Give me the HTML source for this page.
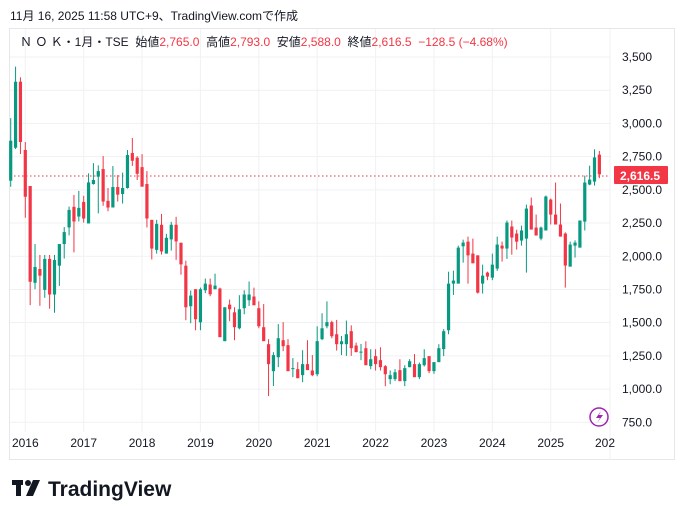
<!DOCTYPE html>
<html><head><meta charset="utf-8"><style>
body{margin:0;background:#fff;width:684px;height:518px;overflow:hidden;font-family:"Liberation Sans","Noto Sans CJK JP",sans-serif;}
svg text{font-family:"Liberation Sans","Noto Sans CJK JP",sans-serif;white-space:pre;}
</style></head><body>
<svg id="s" width="684" height="518" xmlns="http://www.w3.org/2000/svg" xml:space="preserve">
<rect x="0" y="0" width="684" height="518" fill="#fff"/>
<text x="10" y="20" font-size="12" fill="#131722">11月 16, 2025 11:58 UTC+9、TradingView.comで作成</text>
<rect x="9.5" y="28.5" width="665" height="431" fill="none" stroke="#e6e7ea"/>
<g id="grid"></g>
<line x1="610" y1="29" x2="610" y2="460" stroke="#f0f0f0"/>
<line x1="10" y1="176" x2="610" y2="176" stroke="#f23645" stroke-dasharray="1.5,2.5"/>
<g id="c"></g>
<g id="ax" font-size="12" fill="#131722"></g>
<rect x="614" y="166" width="54" height="18" rx="1" fill="#f23645"/>
<text x="620" y="180" font-size="12" font-weight="bold" fill="#fff">2,616.5</text>
<text x="20" y="46" font-size="12" fill="#131722">Ｎ Ｏ Ｋ・1月・TSE  始値<tspan fill="#f23645">2,765.0</tspan>  高値<tspan fill="#f23645">2,793.0</tspan>  安値<tspan fill="#f23645">2,588.0</tspan>  終値<tspan fill="#f23645">2,616.5  −128.5 (−4.68%)</tspan></text>
<circle cx="599" cy="417" r="9" fill="none" stroke="#9c27b0" stroke-width="1.5"/>
<path d="M601 411 L596 418 L600 418 L597 423 L603 415 L599 415 Z" fill="#9c27b0"/>
<g fill="#131722"><rect x="12" y="480" width="11" height="5"/><rect x="16" y="480" width="5" height="16"/><circle cx="28" cy="483" r="3"/><path d="M33 480 L40 480 L33 496 L26 496 Z"/></g>
<text x="48" y="496" font-size="21" font-weight="bold" fill="#131722">TradingView</text>
</svg>
<script>
var d=[
[2569,3040,2523,2870],[2817,3427,2807,3314],[3314,3347,2770,2860],
[2800,2860,2290,2448],[2529,2529,1632,1808],[1800,2092,1752,1919],[1904,2010,1627,1854],[1747,2010,1687,1980],[1980,2010,1605,1712],[1712,2010,1575,1972],[1929,2092,1777,2092],[2092,2220,1983,2182],[2217,2374,2157,2349],[2372,2462,2029,2262],[2299,2492,2262,2364],
[2409,2455,2254,2284],[2247,2624,2247,2556],[2544,2701,2539,2574],[2599,2684,2323,2641],[2656,2754,2380,2412],[2417,2514,2339,2367],[2367,2679,2367,2521],[2521,2611,2412,2464],[2469,2630,2397,2514],[2514,2800,2509,2762],[2777,2890,2680,2719],[2742,2754,2574,2621],
[2671,2769,2524,2524],[2544,2641,2217,2284],[2274,2274,1976,2058],[2048,2274,2020,2244],[2237,2319,2013,2036],[2020,2169,2020,2139],[2127,2259,2043,2237],[2237,2297,1973,2112],[2102,2102,1861,1939],[1929,1967,1519,1616],[1624,1742,1496,1704],[1752,1752,1443,1526],
[1503,1764,1443,1752],[1744,1832,1722,1794],[1787,1832,1699,1714],[1752,1869,1752,1779],[1757,1764,1391,1391],[1361,1616,1361,1616],[1636,1674,1511,1601],[1578,1616,1368,1466],[1458,1707,1450,1601],[1609,1744,1563,1712],[1669,1810,1626,1712],[1697,1764,1631,1631],
[1609,1661,1458,1473],[1466,1640,1361,1361],[1338,1376,947,1188],[1135,1278,1023,1256],[1240,1489,1165,1383],[1368,1504,1286,1323],[1331,1376,1135,1135],[1155,1233,1090,1158],[1150,1203,1082,1082],[1105,1293,1052,1188],[1188,1368,1143,1143],[1140,1256,1097,1105],
[1112,1473,1097,1361],[1376,1571,1368,1458],[1473,1661,1458,1504],[1504,1515,1383,1398],[1413,1521,1290,1338],[1338,1400,1256,1360],[1338,1516,1250,1413],[1436,1480,1250,1308],[1328,1350,1278,1278],[1278,1340,1218,1282],[1308,1360,1180,1180],[1173,1300,1150,1225],
[1248,1300,1140,1188],[1218,1315,1140,1165],[1173,1180,1022,1112],[1075,1140,1037,1105],[1075,1150,1060,1127],[1143,1225,1060,1060],[1060,1180,1022,1158],[1165,1225,1165,1210],[1188,1263,1090,1090],[1090,1200,1075,1188],[1180,1300,1170,1233],[1248,1248,1120,1135],
[1135,1203,1115,1203],[1203,1338,1203,1308],[1301,1451,1248,1436],[1443,1884,1413,1794],[1794,1892,1709,1817],[1794,2080,1794,2065],[2075,2125,1952,2103],[2110,2148,1794,2007],[2020,2133,1947,1947],[2007,2007,1719,1726],[1794,1937,1719,1854],[1877,1884,1820,1847],
[1839,2020,1820,1937],[1907,2148,1890,2088],[2080,2110,1960,2058],[2058,2269,1980,2254],[2224,2269,2012,2141],[2171,2200,2050,2110],[2118,2230,2080,2194],[2133,2389,1877,2359],[2382,2442,2201,2201],[2216,2314,2156,2156],[2133,2224,2120,2216],[2194,2457,2194,2450],
[2427,2435,2239,2314],[2314,2555,2239,2239],[2239,2397,2148,2148],[2171,2180,1764,1930],[1922,2110,1922,2088],[2080,2120,1990,2103],[2065,2269,2065,2269],[2261,2607,2194,2555],[2540,2682,2535,2577],[2562,2805,2532,2744],[2765,2793,2588,2616.5]
];
function Y(p){return 57+(3500-p)*0.13284;}
var ns="http://www.w3.org/2000/svg",g=document.getElementById('c'),gr=document.getElementById('grid'),ax=document.getElementById('ax');
function el(t,a,p){var e=document.createElementNS(ns,t);for(var k in a)e.setAttribute(k,a[k]);p.appendChild(e);return e;}
for(var p=750;p<=3500;p+=250){var y=Y(p);el('line',{x1:10,x2:610,y1:y,y2:y,stroke:'#f0f1f3'},gr);
var s=p.toLocaleString('en-US')+(p<3250?'.0':'');var t=el('text',{x:622,y:y+4},ax);t.textContent=s;}
var yrs=[2016,2017,2018,2019,2020,2021,2022,2023,2024,2025];
for(var i=0;i<yrs.length;i++){var x=25.3+i*12*4.865;el('line',{x1:x,x2:x,y1:29,y2:432,stroke:'#f0f1f3'},gr);var t=el('text',{x:x,y:447,'text-anchor':'middle'},ax);t.textContent=yrs[i];}
var t=el('text',{x:595,y:447},ax);t.textContent='202';
for(var i=0;i<d.length;i++){var c=d[i],x=25.3+(i-3)*4.865,up=c[3]>=c[0],col=up?'#089981':'#f23645';
el('line',{x1:x,x2:x,y1:Y(c[1]),y2:Y(c[2]),stroke:col,'stroke-width':1},g);
var t1=Y(Math.max(c[0],c[3])),b1=Y(Math.min(c[0],c[3]));el('rect',{x:x-1.6,y:t1,width:3.2,height:Math.max(1,b1-t1),fill:col},g);}
</script>
</body></html>
